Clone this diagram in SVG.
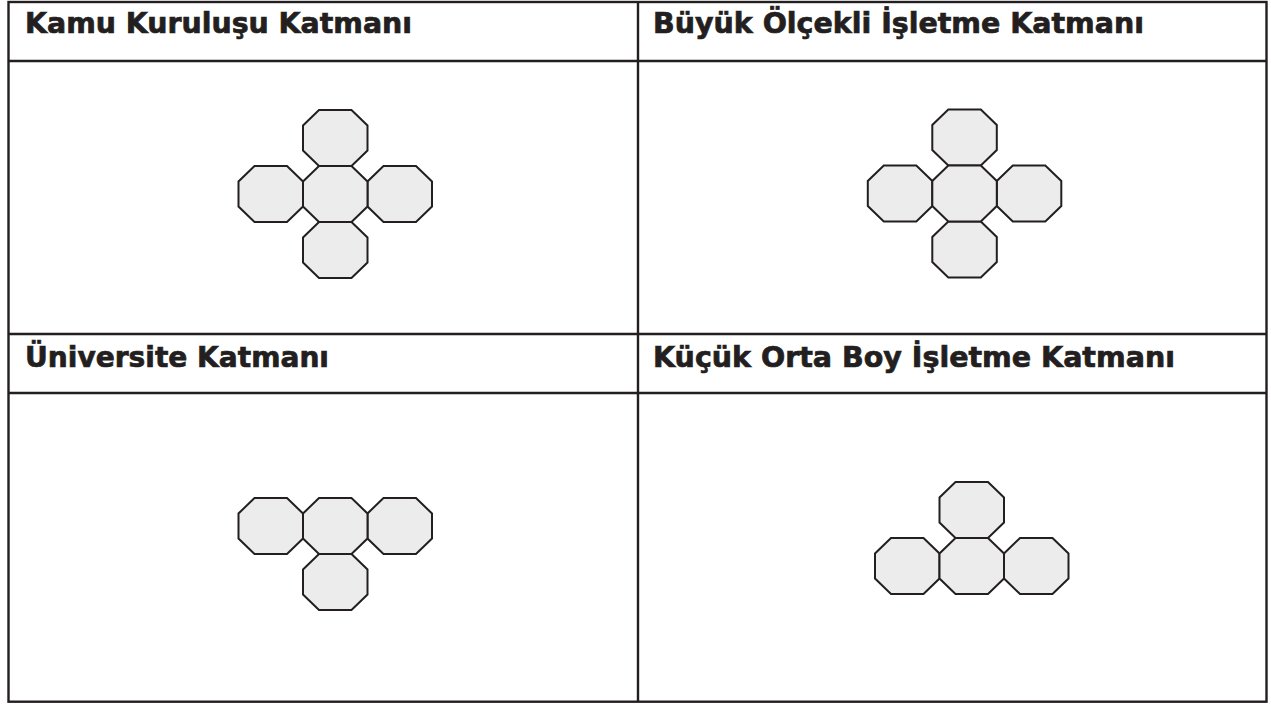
<svg xmlns="http://www.w3.org/2000/svg" xmlns:xlink="http://www.w3.org/1999/xlink" width="1271" height="704" viewBox="0 0 1271 704">
<style>
.grid{fill:none;stroke:#231f20;stroke-width:2.4}
.oct{fill:#ececec;stroke:#231f20;stroke-width:2;stroke-linejoin:miter}
.hd{font-family:"DejaVu Sans","Liberation Sans",sans-serif;font-weight:bold;font-size:27.5px;fill:#231f20;stroke:#231f20;stroke-width:0.7}
</style>
<defs>
<polygon id="oct" class="oct" points="16,0 48.5,0 64.5,15.5 64.5,40.5 48.5,56 16,56 0,40.5 0,15.5"/>
</defs>
<rect width="1271" height="704" fill="#fff"/>
<g id="table">
<rect class="grid" x="8.5" y="2" width="1258" height="699.7"/>
<line class="grid" x1="638" y1="2" x2="638" y2="701.7"/>
<line class="grid" x1="8.5" y1="61" x2="1266.5" y2="61"/>
<line class="grid" x1="8.5" y1="334" x2="1266.5" y2="334"/>
<line class="grid" x1="8.5" y1="393" x2="1266.5" y2="393"/>
</g>
<g id="headers">
<text class="hd" x="25" y="33.3" textLength="387" lengthAdjust="spacingAndGlyphs">Kamu Kuruluşu Katmanı</text>
<text class="hd" x="653" y="33.3" textLength="491" lengthAdjust="spacingAndGlyphs">Büyük Ölçekli İşletme Katmanı</text>
<text class="hd" x="25" y="366.7" textLength="304" lengthAdjust="spacingAndGlyphs">Üniversite Katmanı</text>
<text class="hd" x="653" y="366.7" textLength="522" lengthAdjust="spacingAndGlyphs">Küçük Orta Boy İşletme Katmanı</text>
</g>
<g id="kamu">
<g id="kamu-top"><use xlink:href="#oct" x="303" y="110"/></g>
<g id="kamu-left"><use xlink:href="#oct" x="238.5" y="166"/></g>
<g id="kamu-right"><use xlink:href="#oct" x="367.5" y="166"/></g>
<g id="kamu-bottom"><use xlink:href="#oct" x="303" y="222"/></g>
<g id="kamu-center"><use xlink:href="#oct" x="303" y="166"/></g>
</g>
<g id="buyuk">
<g id="buyuk-top"><use xlink:href="#oct" x="932.3" y="109.5"/></g>
<g id="buyuk-left"><use xlink:href="#oct" x="867.8" y="165.5"/></g>
<g id="buyuk-right"><use xlink:href="#oct" x="996.8" y="165.5"/></g>
<g id="buyuk-bottom"><use xlink:href="#oct" x="932.3" y="221.5"/></g>
<g id="buyuk-center"><use xlink:href="#oct" x="932.3" y="165.5"/></g>
</g>
<g id="universite">
<g id="uni-left"><use xlink:href="#oct" x="238.5" y="498"/></g>
<g id="uni-right"><use xlink:href="#oct" x="367.5" y="498"/></g>
<g id="uni-bottom"><use xlink:href="#oct" x="303" y="554"/></g>
<g id="uni-center"><use xlink:href="#oct" x="303" y="498"/></g>
</g>
<g id="kobi">
<g id="kobi-top"><use xlink:href="#oct" x="939.5" y="482"/></g>
<g id="kobi-left"><use xlink:href="#oct" x="875" y="538"/></g>
<g id="kobi-right"><use xlink:href="#oct" x="1004" y="538"/></g>
<g id="kobi-center"><use xlink:href="#oct" x="939.5" y="538"/></g>
</g>
<g id="connectors"/>
</svg>
